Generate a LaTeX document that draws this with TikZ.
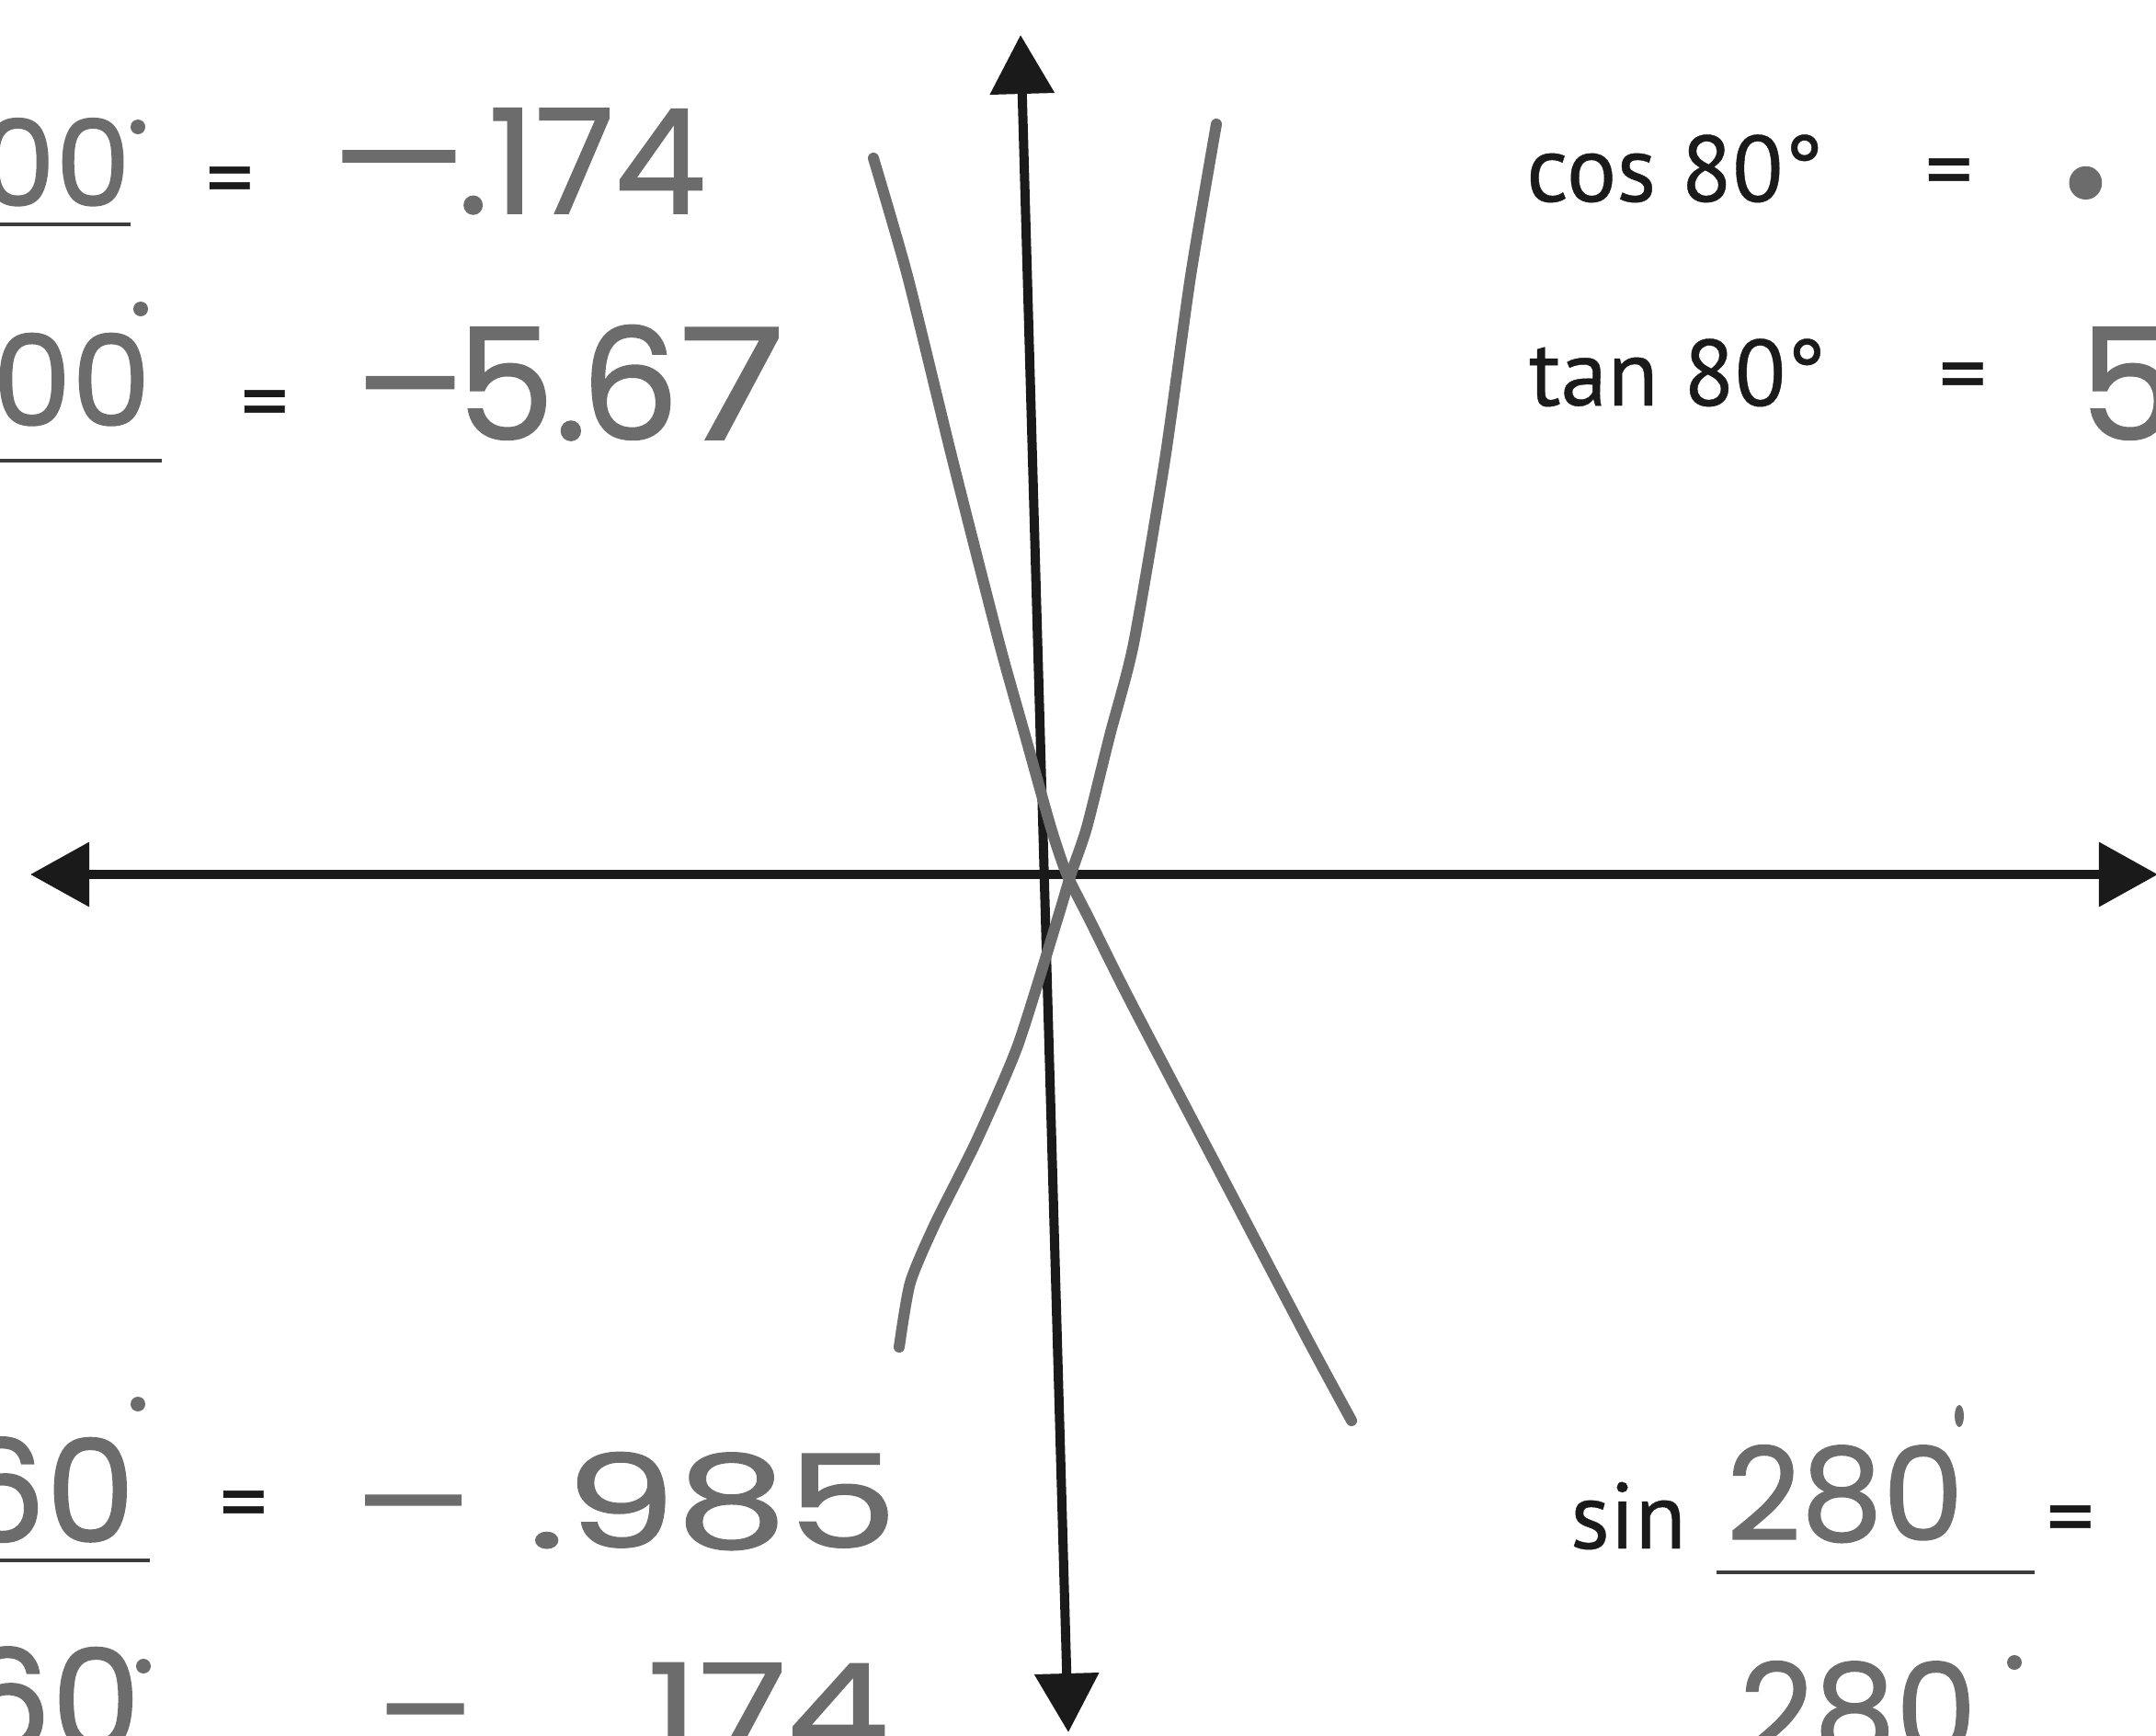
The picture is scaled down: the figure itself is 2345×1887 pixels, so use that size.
\documentclass[tikz,border=0pt]{standalone}
\usepackage{fontspec}
\setmainfont{PT Sans}[FakeBold=0.4]
\newfontfamily\hand[FakeBold=1]{Poppins}
\usetikzlibrary{arrows.meta}
\definecolor{ink}{RGB}{26,26,26}
\definecolor{pencil}{RGB}{108,108,108}
\tikzset{
  axis/.style={draw=ink, line width=0.1cm},
  axtip/.style={{Triangle[length=0.64cm,width=0.68cm]}-{Triangle[length=0.64cm,width=0.68cm]}},
  graphcurve/.style={draw=pencil, line width=0.12cm, line cap=round, line join=round},
  blank/.style={draw=ink!85, line width=0.045cm},
  printed/.style={text=ink, font=\fontsize{29}{32}\selectfont, inner sep=0pt, outer sep=0pt, anchor=base west},
  hw/.style={text=pencil, inner sep=0pt, outer sep=0pt, anchor=base west},
  hwnum/.style={hw, anchor=base east},
  degdot/.style={fill=pencil, draw=none}
}
\begin{document}
\begin{tikzpicture}[x=0.01cm,y=-0.01cm]
\useasboundingbox (0,0) rectangle (2345,1887);
\clip (0,0) rectangle (2345,1887);
% axes
\coordinate (xl) at (33,951);
\coordinate (xr) at (2347,951);
\coordinate (yt) at (1110,38);
\coordinate (yb) at (1162,1884);
\draw[axis, axtip] (xl) -- (xr);
\draw[axis, axtip] (yb) -- (yt);
% hand-drawn curves
\draw[graphcurve] plot[smooth, tension=0.4] coordinates {(950,172) (987,300) (1036,500) (1087,700) (1115,800) (1143,900) (1160,950) (1185,1000) (1230,1090) (1340,1300) (1424,1460) (1470,1545)};
\draw[graphcurve] plot[smooth, tension=0.4] coordinates {(1323,135) (1295,300) (1267,500) (1233,700) (1207,800) (1182,900) (1165,950) (1150,1000) (1107,1137) (1062,1241) (1017,1331) (990,1395) (978,1465)};
% top-left
\node[hwnum, font=\hand\fontsize{37}{40}\selectfont] (tla) at (142,224) {100};
\fill[degdot] (150,138) circle (0.08cm);
\draw[blank] (0,244) -- (142,244);
\node[printed] (tleq) at (224,228) {=};
\node[hw, font=\hand\fontsize{45}{50}\selectfont] (tlm) at (351,228) {\scalebox{1.9}[1]{−}};
\node[hw, font=\hand\fontsize{45}{50}\selectfont] (tlv) at (498,232) {.174};
\node[hwnum, font=\hand\fontsize{39}{42}\selectfont] (tlb) at (164,463) {100};
\fill[degdot] (153,336) circle (0.08cm);
\draw[blank] (0,501) -- (176,501);
\node[printed] (tleqb) at (262,471) {=};
\node[hw, font=\hand\fontsize{48}{52}\selectfont] (tlw) at (381,478) {\scalebox{1.4}[1]{−}\hspace{-4pt}5.\hspace{-2pt}6\scalebox{1.25}[1]{7}};
% top-right
\node[printed] (trc) at (1660,219) {cos 80°};
\node[printed] (treq) at (2094,219) {=};
\node[hw, font=\hand\fontsize{48}{52}\selectfont] (trv) at (2240,214) {\scalebox{1.6}{.}\hspace{30pt}174};
\node[printed] (trt) at (1663,441) {tan 80°};
\node[printed] (treqb) at (2109,441) {=};
\node[hw, font=\hand\fontsize{48}{52}\selectfont] (trw) at (2262,478) {5.67};
% bottom-left
\node[hwnum, font=\hand\fontsize{44}{48}\selectfont] (bla) at (147,1677) {260};
\fill[degdot] (150,1527) circle (0.08cm);
\draw[blank] (0,1697) -- (163,1697);
\node[printed] (bleq) at (239,1668) {=};
\node[hw, font=\hand\fontsize{40}{44}\selectfont] (blv) at (379,1683) {\scalebox{1.82}[1]{−}\hspace{15.5pt}\scalebox{1.36}[1]{.985}};
\node[hwnum, font=\hand\fontsize{44}{48}\selectfont] (blb) at (153,1905) {260};
\fill[degdot] (156,1812) circle (0.08cm);
\node[hw, font=\hand\fontsize{40}{44}\selectfont] (blw) at (406,1910) {\scalebox{1.46}[1]{−}\hspace{42pt}\scalebox{1.25}[1]{.174}};
% bottom-right
\node[printed] (brs) at (1708,1684) {sin};
\node[hw, font=\hand\fontsize{40}{44}\selectfont] (bra) at (1878,1675) {280};
\fill[degdot] (2131,1540) ellipse (0.05cm and 0.12cm);
\draw[blank] (1867,1710) -- (2213,1710);
\node[printed] (breq) at (2226,1684) {=};
\node[hw, font=\hand\fontsize{40}{44}\selectfont] (brb) at (1892,1910) {280};
\fill[degdot] (2191,1808) circle (0.08cm);
\end{tikzpicture}
\end{document}
